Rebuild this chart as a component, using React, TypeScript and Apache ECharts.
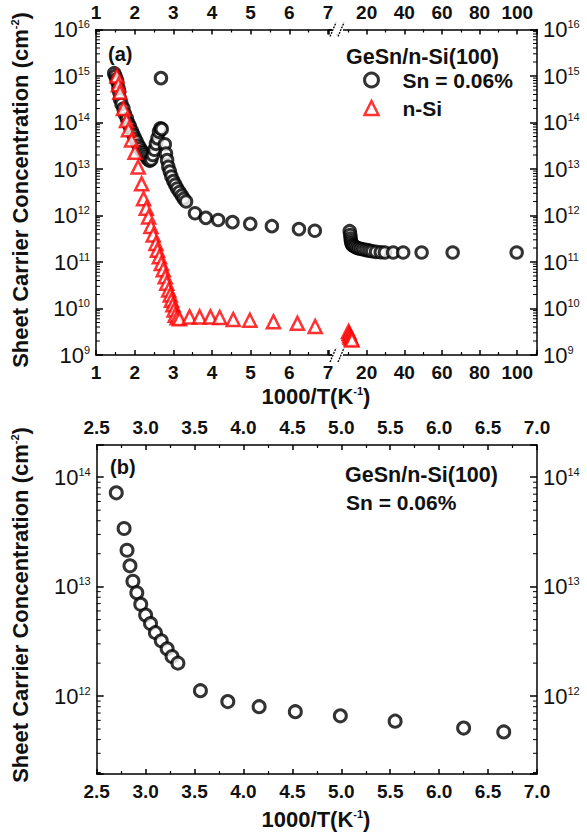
import React, { useEffect, useRef } from "react";
import * as echarts from "echarts";

// ---------- data (1000/T in K^-1, sheet carrier concentration in cm^-2) ----------
// GeSn/n-Si(100), Sn = 0.06% : high-temperature dense cluster (top panel only)
const snClusterX = [1.47, 1.50, 1.53, 1.55, 1.58, 1.60, 1.62, 1.66, 1.71, 1.75, 1.80, 1.84, 1.88, 1.93, 1.97, 2.01, 2.05, 2.10, 2.14, 2.19, 2.23, 2.27, 2.31, 2.35, 2.39, 2.43, 2.47, 2.51, 2.55, 2.59, 2.63, 2.67];
const snClusterY = [1.15e15, 1.0e15, 8.5e14, 7.5e14, 5.5e14, 4.6e14, 3.2e14, 2.5e14, 2.0e14, 1.5e14, 1.2e14, 9.5e13, 8.1e13, 6.5e13, 5.4e13, 4.5e13, 3.9e13, 3.2e13, 2.8e13, 2.4e13, 2.2e13, 2.0e13, 1.8e13, 1.6e13, 1.5e13, 1.6e13, 2.0e13, 2.6e13, 3.5e13, 4.6e13, 6.3e13, 7.5e13];
const snOutlierX = [2.68];
const snOutlierY = [9.0e14];
// Sn = 0.06% : 2.7 .. 6.7 (shown in both panels)
const snMidX = [2.70, 2.78, 2.81, 2.84, 2.87, 2.91, 2.95, 3.00, 3.05, 3.10, 3.16, 3.22, 3.27, 3.33, 3.56, 3.84, 4.16, 4.53, 4.99, 5.55, 6.25, 6.66];
const snMidY = [7.2e13, 3.4e13, 2.15e13, 1.55e13, 1.12e13, 8.8e12, 6.9e12, 5.5e12, 4.6e12, 3.8e12, 3.2e12, 2.7e12, 2.3e12, 2.0e12, 1.12e12, 8.9e11, 8.0e11, 7.2e11, 6.6e11, 5.9e11, 5.1e11, 4.7e11];
// Sn = 0.06% : low temperature (after the axis break)
const snLowX = [11.0, 11.3, 11.5, 11.7, 12.0, 12.5, 13.2, 14.0, 15.0, 16.0, 17.2, 18.5, 20.0, 21.5, 23.0, 25.0, 27.5, 29.7, 34.1, 39.4, 49.2, 65.7, 99.7];
const snLowY = [4.6e11, 3.8e11, 3.2e11, 2.8e11, 2.5e11, 2.3e11, 2.2e11, 2.1e11, 2.0e11, 1.95e11, 1.9e11, 1.85e11, 1.8e11, 1.75e11, 1.7e11, 1.65e11, 1.62e11, 1.6e11, 1.6e11, 1.6e11, 1.6e11, 1.6e11, 1.6e11];
// n-Si
const nSiHighX = [1.54, 1.58, 1.62, 1.71, 1.79, 1.84, 1.92, 2.01, 2.09, 2.18, 2.23, 2.30, 2.36, 2.42, 2.48, 2.55, 2.59, 2.64, 2.69, 2.74, 2.79, 2.83, 2.88, 2.92, 2.95, 2.99, 3.02, 3.05, 3.10, 3.16];
const nSiHighY = [1.0e15, 6.5e14, 4.5e14, 2.0e14, 1.1e14, 7.0e13, 4.2e13, 2.3e13, 1.1e13, 4.8e12, 2.3e12, 1.43e12, 9.3e11, 5.8e11, 3.8e11, 2.5e11, 1.8e11, 1.3e11, 9.3e10, 6.8e10, 4.8e10, 3.5e10, 2.5e10, 1.95e10, 1.5e10, 1.2e10, 9.3e9, 7.2e9, 6.3e9, 6.0e9];
const nSiFlatX = [3.42, 3.68, 3.96, 4.20, 4.55, 4.98, 5.59, 6.21, 6.67];
const nSiFlatY = [6.6e9, 6.6e9, 6.6e9, 6.4e9, 5.8e9, 5.6e9, 5.2e9, 4.8e9, 4.1e9];
const nSiLowX = [10.4, 10.7, 11.0, 11.4, 11.8, 12.2];
const nSiLowY = [3.2e9, 2.9e9, 2.6e9, 2.4e9, 2.2e9, 2.1e9];

// axis settings
const topLeftRange = [1, 7.234];
const topRightRange = [0, 110.5];
const topYRange = [1e9, 1e16];
const botXRange = [2.5, 7.0];
const botYRange = [1.94e11, 1.97e14];

const SN = "Sn = 0.06%";
const NSI = "n-Si";
const FONT = '"Liberation Sans", Arial, Helvetica, sans-serif';

const zip = (xs: number[], ys: number[]) => xs.map((x, i) => [x, ys[i]]);

function minorLogValues(lo: number, hi: number): number[] {
  const out: number[] = [];
  for (let e = Math.floor(Math.log10(lo)); e <= Math.ceil(Math.log10(hi)); e++) {
    for (let k = 2; k <= 9; k++) {
      const v = k * Math.pow(10, e);
      if (v > lo && v < hi) out.push(v);
    }
  }
  return out;
}

function xAx(gridIndex: number, position: string, range: number[], interval: number, fmt: (v: number) => string) {
  return {
    type: "value",
    gridIndex,
    position,
    min: range[0],
    max: range[1],
    interval,
    axisLine: { show: true, onZero: false, lineStyle: { color: "#000", width: 1.5 } },
    axisTick: { show: true, inside: true, length: 5, lineStyle: { color: "#000", width: 1.5 } },
    minorTick: { show: true, splitNumber: 2, length: 3, lineStyle: { color: "#000", width: 1.2 } },
    splitLine: { show: false },
    minorSplitLine: { show: false },
    axisLabel: {
      show: true,
      margin: 8,
      formatter: fmt,
      color: "#111",
      fontSize: 19,
      fontWeight: "bold",
      fontFamily: FONT,
      hideOverlap: false,
    },
  };
}

const logFmt = (v: number) => {
  const l = Math.log10(v);
  const e = Math.round(l);
  if (Math.abs(l - e) > 1e-6) return "";
  return "10{sup|" + e + "}";
};

function yAx(gridIndex: number, position: string, range: number[]) {
  return {
    type: "log",
    logBase: 10,
    gridIndex,
    position,
    min: range[0],
    max: range[1],
    axisLine: { show: true, onZero: false, lineStyle: { color: "#000", width: 1.5 } },
    axisTick: { show: true, inside: true, length: 7, lineStyle: { color: "#000", width: 1.5 } },
    minorTick: { show: false },
    splitLine: { show: false },
    axisLabel: {
      show: true,
      margin: 6,
      formatter: logFmt,
      color: "#111",
      fontSize: 22,
      fontFamily: FONT,
      rich: { sup: { fontSize: 11, fontFamily: FONT, color: "#111", verticalAlign: "top" } },
    },
  };
}

function minorSeries(xAxisIndex: number, yAxisIndex: number, anchor: number, vals: number[], side: string) {
  return {
    type: "custom",
    xAxisIndex,
    yAxisIndex,
    silent: true,
    z: 1,
    data: vals.map((v) => [anchor, v]),
    renderItem: (params: any, api: any) => {
      const y = api.coord([api.value(0), api.value(1)])[1];
      const cs = params.coordSys;
      const children: any[] = [];
      if (side === "left" || side === "both") {
        children.push({ type: "line", shape: { x1: cs.x, y1: y, x2: cs.x + 4, y2: y }, style: { stroke: "#000", lineWidth: 1 } });
      }
      if (side === "right" || side === "both") {
        const r = cs.x + cs.width;
        children.push({ type: "line", shape: { x1: r, y1: y, x2: r - 4, y2: y }, style: { stroke: "#000", lineWidth: 1 } });
      }
      return { type: "group", children };
    },
  };
}

const circleStyle = { color: "#fff", borderColor: "#000", borderWidth: 3 };
const triStyle = { color: "#fff", borderColor: "#ff0000", borderWidth: 2.5 };

function breakMarks(y0: number) {
  return [
    { type: "rect", z: 100, shape: { x: 332, y: y0 - 5, width: 11, height: 10 }, style: { fill: "#fff" } },
    { type: "line", z: 101, shape: { x1: 330, y1: y0 + 7, x2: 336, y2: y0 - 7 }, style: { stroke: "#000", lineWidth: 1.3, lineDash: [2, 1] } },
    { type: "line", z: 101, shape: { x1: 338, y1: y0 + 7, x2: 344, y2: y0 - 7 }, style: { stroke: "#000", lineWidth: 1.3, lineDash: [2, 1] } },
  ];
}

function label(text: string, x: number, y: number, size: number, extra: any = {}) {
  return {
    type: "text",
    z: 102,
    x,
    y,
    ...extra,
    style: {
      text,
      fill: "#111",
      fontSize: size,
      fontWeight: "bold",
      fontFamily: FONT,
      verticalAlign: "middle",
      align: "left",
      rich: { sup: { fontSize: Math.round(size * 0.5), fontWeight: "bold", fontFamily: FONT, fill: "#111", verticalAlign: "top" } },
      ...(extra.style || {}),
    },
  };
}

export default function App() {
  const ref = useRef<HTMLDivElement>(null);
  useEffect(() => {
    if (!ref.current) return;
    const chart = echarts.init(ref.current, undefined, { renderer: "svg" });
    const intFmt = (v: number) => (Math.abs(v - Math.round(v)) < 1e-9 ? String(Math.round(v)) : "");
    const rightFmt = (v: number) => (v >= 20 && Math.abs(v % 20) < 1e-9 ? String(v) : "");
    const botFmt = (v: number) => v.toFixed(1);

    const option: any = {
      animation: false,
      backgroundColor: "#fff",
      grid: [
        { left: 96, top: 29.5, width: 241, height: 325.5 },
        { left: 329, top: 29.5, width: 208, height: 325.5 },
        { left: 96.7, top: 445, width: 440.3, height: 329 },
      ],
      xAxis: [
        xAx(0, "bottom", topLeftRange, 1, intFmt),
        xAx(0, "top", topLeftRange, 1, intFmt),
        xAx(1, "bottom", topRightRange, 20, rightFmt),
        xAx(1, "top", topRightRange, 20, rightFmt),
        xAx(2, "bottom", botXRange, 0.5, botFmt),
        xAx(2, "top", botXRange, 0.5, botFmt),
      ],
      yAxis: [
        yAx(0, "left", topYRange),
        yAx(1, "right", topYRange),
        yAx(2, "left", botYRange),
        yAx(2, "right", botYRange),
      ],
      legend: {
        data: [
          { name: SN, icon: "circle", itemStyle: { color: "#fff", borderColor: "#000", borderWidth: 3 } },
          { name: NSI, icon: "triangle", itemStyle: { color: "#fff", borderColor: "#ff0000", borderWidth: 2.5 } },
        ],
        orient: "vertical",
        left: 363,
        top: 69.5,
        padding: 0,
        itemWidth: 14,
        itemHeight: 14,
        itemGap: 7,
        selectedMode: false,
        textStyle: { fontSize: 21, fontWeight: "bold", fontFamily: FONT, color: "#111", padding: [0, 0, 0, 19] },
      },
      series: [
        minorSeries(0, 0, topLeftRange[0], minorLogValues(topYRange[0], topYRange[1]), "left"),
        minorSeries(2, 1, 50, minorLogValues(topYRange[0], topYRange[1]), "right"),
        minorSeries(4, 2, 3, minorLogValues(botYRange[0], botYRange[1]), "both"),
        {
          name: SN, type: "scatter", xAxisIndex: 0, yAxisIndex: 0, symbol: "circle", symbolSize: 11.5,
          itemStyle: circleStyle, z: 3,
          data: [...zip(snClusterX, snClusterY), ...zip(snOutlierX, snOutlierY), ...zip(snMidX, snMidY)],
        },
        {
          name: SN, type: "scatter", xAxisIndex: 2, yAxisIndex: 1, symbol: "circle", symbolSize: 11.5,
          itemStyle: circleStyle, z: 3,
          data: zip(snLowX, snLowY),
        },
        {
          name: NSI, type: "scatter", xAxisIndex: 0, yAxisIndex: 0, symbol: "triangle", symbolSize: 13,
          itemStyle: triStyle, z: 4,
          data: [...zip(nSiHighX, nSiHighY), ...zip(nSiFlatX, nSiFlatY)],
        },
        {
          name: NSI, type: "scatter", xAxisIndex: 2, yAxisIndex: 1, symbol: "triangle", symbolSize: 13,
          itemStyle: triStyle, z: 4,
          data: zip(nSiLowX, nSiLowY),
        },
        {
          name: "Sn bottom", type: "scatter", xAxisIndex: 4, yAxisIndex: 2, symbol: "circle", symbolSize: 12,
          itemStyle: circleStyle, z: 3,
          data: zip(snMidX, snMidY),
        },
      ],
      graphic: [
        ...breakMarks(29.5),
        ...breakMarks(355),
        label("(a)", 108, 54, 20),
        label("GeSn/n-Si(100)", 346, 57, 21.5),
        label("(b)", 110, 467, 20),
        label("GeSn/n-Si(100)", 345, 475, 21.5),
        label("Sn = 0.06%", 346, 502, 21),
        label("1000/T(K{sup|-1})", 316, 396, 22, { style: { align: "center" } }),
        label("1000/T(K{sup|-1})", 316, 819, 22, { style: { align: "center" } }),
        label("Sheet Carrier Concentration (cm{sup|-2})", 20, 190, 22, { rotation: Math.PI / 2, style: { align: "center" } }),
        label("Sheet Carrier Concentration (cm{sup|-2})", 20, 605, 22, { rotation: Math.PI / 2, style: { align: "center" } }),
      ],
    };
    chart.setOption(option);
    return () => chart.dispose();
  }, []);
  return <div ref={ref} style={{ position: "absolute", left: 0, top: 0, width: 587, height: 832 }} />;
}
